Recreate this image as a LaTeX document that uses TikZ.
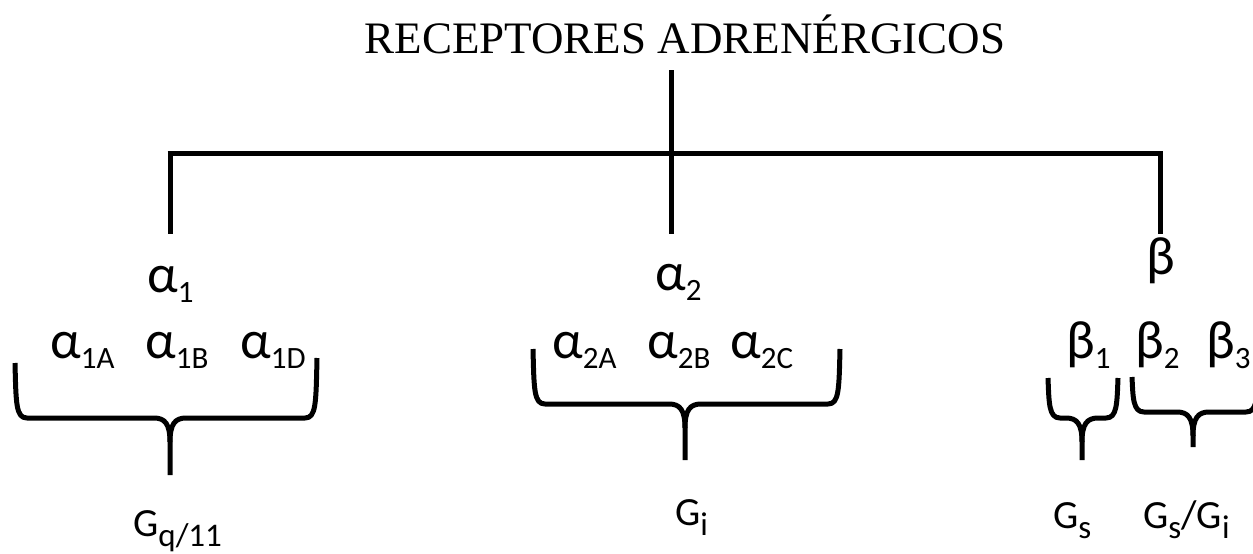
\documentclass[tikz,border=0pt]{standalone}
\usepackage{fontspec}
\setmainfont{Liberation Serif}
\newfontfamily\calfont{Carlito}
\newcommand\lo[1]{\raisebox{-0.2em}{\fontsize{31}{31}\selectfont #1}}
\newcommand\glo[1]{\raisebox{-0.27em}{\fontsize{33}{33}\selectfont #1}}
% braces: #1 left x, #2 top y, #3 right x, #4 bottom y, #5 centre x, #6 tip y, #7 right top y
\newcommand\mybrace[7]{%
  \draw[brk] (#1,#2) .. controls (#1+1,#4-14) and (#1+1,#4) .. (#1+12,#4)
     -- (#5-16,#4) .. controls (#5-5,#4) and (#5,#4+6) .. (#5,#4+24) -- (#5,#6);
  \draw[brk] (#3,#7) .. controls (#3-1,#4-14) and (#3-1,#4) .. (#3-12,#4)
     -- (#5+16,#4) .. controls (#5+5,#4) and (#5,#4+6) .. (#5,#4+24);
}
\tikzset{
  tree/.style={line width=5pt},
  brk/.style={line width=5pt, line join=round},
  title/.style={font=\fontsize{45}{50}\selectfont, inner sep=0pt, anchor=base},
  greek/.style={font=\calfont\fontsize{54}{58}\selectfont, inner sep=0pt, anchor=base west},
  gprot/.style={font=\calfont\fontsize{40}{44}\selectfont, inner sep=0pt, anchor=base west},
}
\begin{document}
\begin{tikzpicture}[x=1pt,y=-1pt]
\useasboundingbox (0,0) rectangle (1253,554);
% title
\node[title] (title) at (685,53) {RECEPTORES ADRENÉRGICOS};
% tree coordinates
\coordinate (top) at (671,70);
\coordinate (j) at (671,153);
\coordinate (jl) at (170,153);
\coordinate (jr) at (1160,153);
\coordinate (a1c) at (170,234);
\coordinate (a2c) at (671,234);
\coordinate (bc) at (1160,234);
% labels
\node[greek] (a1) at (147,292) {α\lo{1}};
\node[greek] (a2) at (655,290) {α\lo{2}};
\node[greek] (b) at (1146,274) {β};
\node[greek] (a1A) at (50,358) {α\lo{1A}};
\node[greek] (a1B) at (145,358) {α\lo{1B}};
\node[greek] (a1D) at (240,358) {α\lo{1D}};
\node[greek] (a2A) at (552,358) {α\lo{2A}};
\node[greek] (a2B) at (647,358) {α\lo{2B}};
\node[greek] (a2C) at (730,358) {α\lo{2C}};
\node[greek] (b1) at (1066,358) {β\lo{1}};
\node[greek] (b2) at (1135,358) {β\lo{2}};
\node[greek] (b3) at (1206,358) {β\lo{3}};
\node[gprot] (gq) at (133,536) {G\glo{q/11}};
\node[gprot] (gi) at (675,525) {G\glo{i}};
\node[gprot] (gs) at (1053,528) {G\glo{s}};
\node[gprot] (gsgi) at (1143,528) {G\glo{s}/G\glo{i}};
% tree
\draw[tree] (top) -- (j);
\draw[tree] ([xshift=-2.5pt]jl) -- ([xshift=2.5pt]jr);
\draw[tree] (jl) -- (a1c);
\draw[tree] (j) -- (a2c);
\draw[tree] (jr) -- (bc);
% braces
\mybrace{15}{363}{317}{418}{170}{475}{358}
\mybrace{533}{349}{840}{404}{685}{460}{349}
\mybrace{1048}{378}{1118}{418}{1082}{460}{378}
\mybrace{1132}{377}{1258}{412}{1193}{447}{377}
\end{tikzpicture}
\end{document}
